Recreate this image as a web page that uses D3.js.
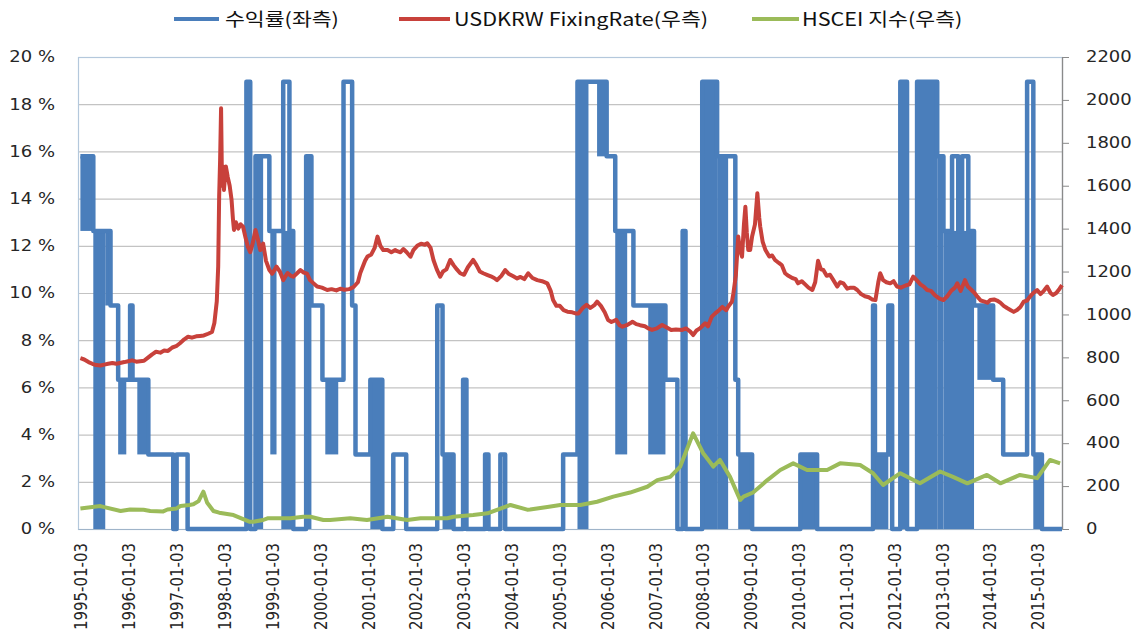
<!DOCTYPE html>
<html>
<head>
<meta charset="utf-8">
<script src="https://cdn.jsdelivr.net/npm/d3@7"></script>
<style>
  body { margin: 0; background: #fff; }
  .axis text { font-family: "DejaVu Sans", sans-serif; font-size: 15px; fill: #262626; }
  .legend text { font-family: "Noto Sans CJK KR", sans-serif; font-size: 18px; fill: #111; }
</style>
</head>
<body>
<svg id="chart"></svg>
<script>
// x axis labels (category ticks)
var xLabels = ["1995-01-03","1996-01-03","1997-01-03","1998-01-03","1999-01-03","2000-01-03",
  "2001-01-03","2002-01-03","2003-01-03","2004-01-03","2005-01-03","2006-01-03","2007-01-03",
  "2008-01-03","2009-01-03","2010-01-03","2011-01-03","2012-01-03","2013-01-03","2014-01-03","2015-01-03"];
var leftTicks = [0, 2, 4, 6, 8, 10, 12, 14, 16, 18, 20];
var rightTicks = [0, 200, 400, 600, 800, 1000, 1200, 1400, 1600, 1800, 2000, 2200];

var seriesNames = ["수익률(좌측)", "USDKRW FixingRate(우측)", "HSCEI 지수(우측)"];

// 수익률 (%) : step series, [decimal year, value]
var returnSteps = [
  [1995.00, 15.79],[1995.27, 12.63],[1995.63, 9.47],[1995.79, 6.32],[1996.04, 9.47],[1996.09, 6.32],
  [1996.42, 3.16],[1996.94, 0],[1997.01, 3.16],[1997.24, 0],[1998.47, 18.95],[1998.55, 0],
  [1998.66, 15.79],[1998.95, 12.63],[1999.24, 18.95],[1999.37, 12.63],[1999.45, 0],[1999.72, 15.79],
  [1999.83, 9.47],[2000.06, 6.32],[2000.50, 18.95],[2000.68, 9.47],[2000.75, 3.16],[2001.06, 6.32],
  [2001.31, 0],[2001.54, 3.16],[2001.81, 0],[2002.46, 9.47],[2002.57, 3.16],[2002.80, 0],
  [2003.00, 6.32],[2003.07, 0],[2003.46, 3.16],[2003.53, 0],[2003.78, 3.16],[2003.88, 0],
  [2005.09, 3.16],[2005.39, 18.95],[2006.00, 15.79],[2006.18, 12.63],[2006.56, 9.47],[2007.23, 6.32],
  [2007.48, 0],[2007.59, 12.63],[2007.65, 0],[2008.00, 18.95],[2008.31, 15.79],[2008.69, 6.32],
  [2008.75, 3.16],[2009.04, 0],[2010.05, 3.16],[2010.40, 0],[2011.57, 9.47],[2011.61, 3.16],
  [2011.89, 9.47],[2011.97, 0],[2012.14, 18.95],[2012.28, 0],[2012.49, 18.95],[2012.91, 15.79],
  [2013.04, 12.63],[2013.22, 15.79],[2013.35, 12.63],[2013.43, 15.79],[2013.56, 12.63],[2013.68, 9.47],
  [2014.08, 6.32],[2014.29, 3.16],[2014.79, 18.95],[2014.92, 3.16],[2015.10, 0],[2015.52, 0]
];
// dense stretches where the return flips daily: [from, to, low, high]
var returnDense = [
  [1995.00, 1995.27, 12.63, 15.79],[1995.27, 1995.52, 0, 12.63],[1995.52, 1995.63, 9.47, 12.63],
  [1995.79, 1995.96, 3.16, 6.32],[1996.19, 1996.42, 3.16, 6.32],[1998.66, 1998.82, 0, 15.79],
  [1998.97, 1999.10, 3.16, 12.63],[1999.20, 1999.45, 0, 12.63],[1999.72, 1999.83, 0, 15.79],
  [2000.12, 2000.39, 3.16, 6.32],[2001.06, 2001.31, 0, 6.32],[2002.57, 2002.80, 0, 3.16],
  [2005.39, 2005.62, 0, 18.95],[2005.80, 2006.01, 15.79, 18.95],[2006.18, 2006.43, 3.16, 12.63],
  [2006.87, 2007.23, 3.16, 9.47],[2008.00, 2008.31, 0, 18.95],[2008.31, 2008.54, 0, 15.79],
  [2008.75, 2009.00, 0, 3.16],[2010.05, 2010.40, 0, 3.16],[2011.61, 2011.89, 0, 3.16],
  [2012.14, 2012.28, 0, 18.95],[2012.49, 2012.91, 0, 18.95],[2012.91, 2013.04, 0, 15.79],
  [2013.04, 2013.68, 0, 12.63],[2013.75, 2014.08, 6.32, 9.47],[2014.92, 2015.10, 0, 3.16]
];

// USDKRW fixing rate
var usdkrw = [
  [1995.00,796],[1995.08,790],[1995.17,778],[1995.25,770],[1995.33,764],[1995.42,762],[1995.50,766],
  [1995.58,770],[1995.67,774],[1995.75,770],[1995.83,774],[1995.92,778],[1996.00,782],[1996.08,786],
  [1996.17,780],[1996.25,782],[1996.33,784],[1996.42,800],[1996.50,814],[1996.58,826],[1996.67,822],
  [1996.75,832],[1996.83,830],[1996.92,846],[1997.00,852],[1997.08,866],[1997.17,884],[1997.25,896],
  [1997.33,892],[1997.42,898],[1997.50,900],[1997.58,902],[1997.67,910],[1997.75,918],[1997.80,960],
  [1997.85,1060],[1997.88,1223],[1997.90,1550],[1997.92,1720],[1997.94,1961],[1997.96,1600],
  [1997.98,1690],[1998.00,1580],[1998.04,1690],[1998.08,1640],[1998.12,1600],[1998.16,1533],
  [1998.19,1440],[1998.21,1394],[1998.25,1430],[1998.30,1400],[1998.35,1420],[1998.40,1409],
  [1998.45,1360],[1998.50,1316],[1998.55,1290],[1998.60,1330],[1998.66,1394],[1998.70,1360],
  [1998.76,1300],[1998.82,1330],[1998.88,1250],[1998.95,1207],[1999.01,1190],[1999.10,1223],
  [1999.17,1200],[1999.24,1160],[1999.33,1193],[1999.40,1180],[1999.45,1176],[1999.52,1190],
  [1999.60,1207],[1999.67,1195],[1999.74,1190],[1999.80,1160],[1999.87,1146],[1999.95,1130],
  [2000.05,1125],[2000.16,1114],[2000.25,1118],[2000.35,1112],[2000.43,1120],[2000.52,1115],
  [2000.62,1118],[2000.71,1128],[2000.80,1150],[2000.85,1193],[2000.95,1250],[2001.00,1270],
  [2001.08,1280],[2001.15,1310],[2001.21,1363],[2001.27,1320],[2001.33,1300],[2001.42,1300],
  [2001.50,1290],[2001.58,1300],[2001.62,1295],[2001.69,1290],[2001.75,1305],[2001.82,1290],
  [2001.90,1269],[2001.96,1300],[2002.04,1320],[2002.12,1330],[2002.20,1325],[2002.25,1332],
  [2002.32,1310],[2002.38,1254],[2002.45,1210],[2002.52,1176],[2002.58,1200],[2002.65,1210],
  [2002.73,1254],[2002.80,1230],[2002.87,1210],[2002.94,1192],[2003.02,1185],[2003.10,1220],
  [2003.21,1254],[2003.28,1230],[2003.35,1200],[2003.42,1192],[2003.50,1185],[2003.58,1178],
  [2003.65,1170],[2003.71,1160],[2003.80,1180],[2003.88,1207],[2003.95,1190],[2004.05,1178],
  [2004.13,1168],[2004.20,1175],[2004.28,1165],[2004.36,1192],[2004.45,1170],[2004.55,1160],
  [2004.65,1155],[2004.76,1145],[2004.83,1110],[2004.88,1067],[2004.95,1040],[2005.02,1040],
  [2005.10,1020],[2005.18,1013],[2005.28,1010],[2005.35,1005],[2005.41,1005],[2005.50,1030],
  [2005.58,1045],[2005.66,1030],[2005.75,1045],[2005.80,1060],[2005.88,1040],[2005.96,1010],
  [2006.03,974],[2006.10,965],[2006.20,975],[2006.27,950],[2006.33,943],[2006.42,950],[2006.50,960],
  [2006.54,966],[2006.62,955],[2006.70,950],[2006.80,945],[2006.87,935],[2006.95,928],[2007.05,935],
  [2007.16,951],[2007.25,940],[2007.35,928],[2007.45,930],[2007.58,928],[2007.66,935],[2007.75,920],
  [2007.81,904],[2007.88,925],[2007.95,935],[2008.06,959],[2008.12,945],[2008.20,990],[2008.27,1005],
  [2008.35,1020],[2008.42,1035],[2008.50,1020],[2008.54,1036],[2008.62,1060],[2008.65,1099],
  [2008.70,1180],[2008.75,1363],[2008.79,1300],[2008.83,1269],[2008.87,1420],[2008.90,1502],
  [2008.93,1380],[2008.96,1300],[2009.00,1300],[2009.04,1363],[2009.10,1420],[2009.15,1565],
  [2009.19,1450],[2009.21,1409],[2009.26,1340],[2009.32,1300],[2009.40,1270],[2009.46,1275],
  [2009.52,1254],[2009.60,1240],[2009.66,1230],[2009.73,1192],[2009.80,1180],[2009.88,1170],
  [2009.95,1165],[2010.00,1145],[2010.08,1155],[2010.15,1140],[2010.22,1125],[2010.30,1114],
  [2010.36,1150],[2010.42,1250],[2010.48,1210],[2010.53,1207],[2010.60,1180],[2010.67,1185],
  [2010.74,1160],[2010.82,1130],[2010.88,1150],[2010.95,1145],[2011.03,1120],[2011.10,1125],
  [2011.17,1125],[2011.24,1114],[2011.32,1095],[2011.40,1085],[2011.48,1080],[2011.55,1070],
  [2011.62,1067],[2011.68,1150],[2011.72,1192],[2011.78,1160],[2011.85,1150],[2011.93,1145],
  [2012.00,1155],[2012.07,1130],[2012.15,1125],[2012.25,1135],[2012.33,1140],[2012.41,1176],
  [2012.48,1160],[2012.56,1140],[2012.63,1130],[2012.70,1114],[2012.78,1110],[2012.86,1090],
  [2012.95,1075],[2013.04,1067],[2013.12,1085],[2013.20,1110],[2013.28,1125],[2013.33,1145],
  [2013.40,1110],[2013.49,1160],[2013.55,1130],[2013.62,1115],[2013.69,1100],[2013.75,1083],
  [2013.82,1065],[2013.90,1060],[2013.96,1055],[2014.02,1067],[2014.10,1070],[2014.16,1065],
  [2014.23,1055],[2014.30,1040],[2014.37,1030],[2014.44,1021],[2014.51,1012],[2014.58,1021],
  [2014.65,1035],[2014.72,1060],[2014.79,1065],[2014.85,1083],[2014.92,1100],[2015.00,1114],
  [2015.07,1095],[2015.14,1110],[2015.21,1130],[2015.28,1100],[2015.33,1091],[2015.40,1100],
  [2015.47,1120],[2015.52,1137]
];

// HSCEI index (scaled, right axis)
var hscei = [
  [1995.00,96],[1995.42,107],[1995.48,103],[1995.84,84],[1996.04,91],[1996.32,90],[1996.46,84],
  [1996.73,82],[1996.82,91],[1997.01,96],[1997.09,107],[1997.28,112],[1997.36,115],[1997.47,130],
  [1997.57,174],[1997.65,122],[1997.78,84],[1997.90,76],[1998.20,65],[1998.53,34],[1998.62,34],
  [1998.82,42],[1998.91,50],[1999.24,50],[1999.39,50],[1999.66,57],[1999.81,57],[2000.08,42],
  [2000.22,42],[2000.64,50],[2000.99,42],[2001.42,57],[2001.83,42],[2002.11,50],[2002.67,50],
  [2002.80,57],[2003.21,65],[2003.51,73],[2003.78,95],[2003.99,112],[2004.34,90],[2004.40,91],
  [2004.76,103],[2005.03,112],[2005.45,112],[2005.80,127],[2006.14,151],[2006.49,170],[2006.85,197],
  [2007.06,228],[2007.33,243],[2007.54,291],[2007.81,446],[2008.02,353],[2008.23,291],[2008.37,322],
  [2008.58,243],[2008.79,135],[2008.86,151],[2009.06,170],[2009.36,228],[2009.63,275],[2009.90,306],
  [2010.19,275],[2010.61,275],[2010.88,306],[2011.30,298],[2011.57,260],[2011.78,205],[2012.14,260],
  [2012.55,213],[2012.97,268],[2013.24,243],[2013.54,213],[2013.95,252],[2014.23,213],[2014.64,252],
  [2015.00,237],[2015.27,322],[2015.48,306]
];

var colors = {ret: "#4a7ebb", krw: "#c8413b", hs: "#9bbb59"};
var margin = {top: 57, right: 77, bottom: 107, left: 78};
var totalW = 1139, totalH = 636;
var visWidth = totalW - margin.left - margin.right;
var visHeight = totalH - margin.top - margin.bottom;
var stretch = 1.2; // text in the picture is drawn wider than tall

function toDate(yr) {
    var y = Math.floor(yr);
    var a = Date.UTC(y, 0, 1), b = Date.UTC(y + 1, 0, 1);
    return new Date(a + (yr - y) * (b - a));
}

var svg = d3.select("#chart")
    .attr("width", totalW)
    .attr("height", totalH);

svg.append("rect").attr("width", totalW).attr("height", totalH).attr("fill", "#fff");

var g = svg.append("g")
    .attr("transform", "translate(" + margin.left + "," + margin.top + ")");

var x = d3.scaleUtc()
    .domain([toDate(1994.95), toDate(2015.52)])
    .range([0, visWidth]);
var yL = d3.scaleLinear().domain([0, 20]).range([visHeight, 0]);
var yR = d3.scaleLinear().domain([0, 2200]).range([visHeight, 0]);

// grid
g.selectAll(".grid")
    .data(leftTicks)
    .enter().append("line")
    .attr("class", "grid")
    .attr("x1", 0).attr("x2", visWidth)
    .attr("y1", function(d) { return yL(d) + 0.5; })
    .attr("y2", function(d) { return yL(d) + 0.5; })
    .attr("stroke", "#c3c3c3")
    .attr("stroke-width", 1.2);

// plot area border
g.append("rect")
    .attr("x", 0.5).attr("y", 0.5)
    .attr("width", visWidth).attr("height", visHeight)
    .attr("fill", "none")
    .attr("stroke", "#b4c8dc")
    .attr("stroke-width", 1.2);

// left axis
var axL = g.append("g")
    .attr("class", "axis")
    .call(d3.axisLeft(yL).tickValues(leftTicks).tickSize(0).tickPadding(23)
        .tickFormat(function(d) { return d + " %"; }));
axL.select(".domain").remove();
axL.selectAll("text")
    .attr("x", -23 / stretch)
    .attr("transform", "scale(" + stretch + ",1)");

// right axis
var axR = g.append("g")
    .attr("class", "axis")
    .attr("transform", "translate(" + visWidth + ",0)")
    .call(d3.axisRight(yR).tickValues(rightTicks).tickSize(7).tickSizeOuter(0).tickPadding(16)
        .tickFormat(d3.format("d")));
axR.select(".domain").attr("stroke", "#8a8a8a").attr("stroke-width", 1.3);
axR.selectAll("line").attr("stroke", "#8a8a8a");
axR.selectAll("text")
    .attr("x", 24 / stretch)
    .attr("transform", "scale(" + stretch + ",1)");

// bottom axis with rotated date labels
var xTickDates = xLabels.map(function(s) { return d3.utcParse("%Y-%m-%d")(s); });
var axB = g.append("g")
    .attr("class", "axis")
    .attr("transform", "translate(0," + visHeight + ")")
    .call(d3.axisBottom(x).tickValues(xTickDates).tickSize(0)
        .tickFormat(function(d, i) { return xLabels[i]; }));
axB.select(".domain").attr("stroke", "#9fb4c9");
axB.selectAll("text")
    .attr("text-anchor", "end")
    .attr("x", 0).attr("y", 0)
    .attr("dy", "0.35em")
    .attr("transform", "translate(0,14) scale(" + stretch + ",1) rotate(-90)");

// 수익률 : dense stretches then the step line
g.selectAll(".dense")
    .data(returnDense)
    .enter().append("rect")
    .attr("class", "dense")
    .attr("x", function(d) { return x(toDate(d[0])); })
    .attr("width", function(d) { return x(toDate(d[1])) - x(toDate(d[0])); })
    .attr("y", function(d) { return yL(d[3]); })
    .attr("height", function(d) { return yL(d[2]) - yL(d[3]); })
    .attr("fill", colors.ret);

var stepLine = d3.line()
    .x(function(d) { return x(toDate(d[0])); })
    .y(function(d) { return yL(d[1]); })
    .curve(d3.curveStepAfter);
g.append("path")
    .datum(returnSteps)
    .attr("d", stepLine)
    .attr("fill", "none")
    .attr("stroke", colors.ret)
    .attr("stroke-width", 4.5)
    .attr("stroke-linejoin", "round");

var rightLine = d3.line()
    .x(function(d) { return x(toDate(d[0])); })
    .y(function(d) { return yR(d[1]); });

g.append("path")
    .datum(usdkrw)
    .attr("d", rightLine)
    .attr("fill", "none")
    .attr("stroke", colors.krw)
    .attr("stroke-width", 4)
    .attr("stroke-linejoin", "round");

g.append("path")
    .datum(hscei)
    .attr("d", rightLine)
    .attr("fill", "none")
    .attr("stroke", colors.hs)
    .attr("stroke-width", 4)
    .attr("stroke-linejoin", "round");

// legend
var legendItems = [
    {name: seriesNames[0], color: colors.ret, x0: 174, x1: 219, tx: 225},
    {name: seriesNames[1], color: colors.krw, x0: 399, x1: 450, tx: 454},
    {name: seriesNames[2], color: colors.hs, x0: 752, x1: 799, tx: 802}
];
var legend = svg.append("g").attr("class", "legend");
legendItems.forEach(function(it) {
    legend.append("line")
        .attr("x1", it.x0).attr("x2", it.x1)
        .attr("y1", 19).attr("y2", 19)
        .attr("stroke", it.color)
        .attr("stroke-width", 4);
    legend.append("text")
        .attr("x", it.tx / stretch)
        .attr("y", 26)
        .attr("transform", "scale(" + stretch + ",1)")
        .text(it.name);
});
</script>
</body>
</html>
